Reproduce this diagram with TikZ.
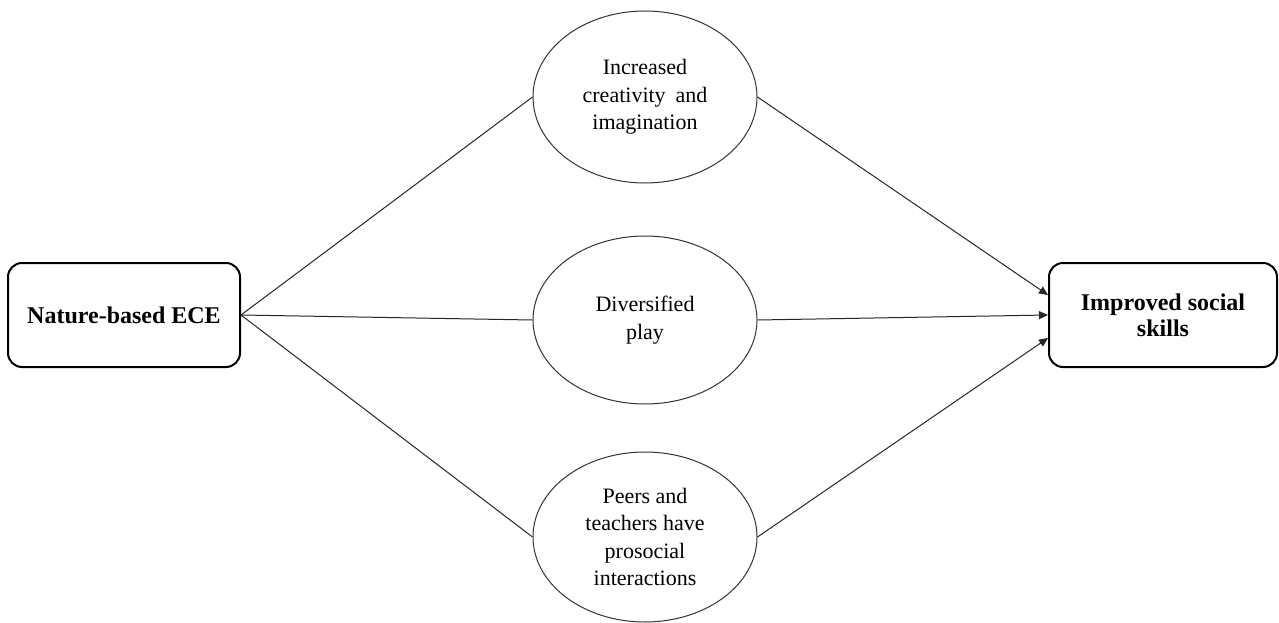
\documentclass[tikz,border=0pt]{standalone}
\usepackage{fontspec}
\setmainfont{Liberation Serif}
\usetikzlibrary{shapes.geometric,arrows.meta}
\tikzset{
  boxnode/.style={draw=black, line width=2pt, rounded corners=14pt, minimum width=232pt, minimum height=104pt, inner sep=0pt, align=center, font=\fontsize{24}{26}\selectfont\bfseries},
  ovalnode/.style={draw=black!80, line width=1pt, ellipse, minimum width=224pt, minimum height=172pt, inner sep=0pt, align=center, font=\fontsize{22}{27.5}\selectfont},
  link/.style={draw=black!85, line width=1pt},
  arrowlink/.style={link, -{Triangle[length=9pt,width=8pt]}}
}
\begin{document}
\begin{tikzpicture}[x=1pt,y=-1pt]
\useasboundingbox (0,0) rectangle (1279,623);
\node[boxnode, minimum width=232pt] (src) at (124,315) {Nature-based ECE};
\node[boxnode, minimum width=228pt] (dst) at (1163,315) {Improved social\\skills};
\node[ovalnode] (top) at (645,97) {Increased\\creativity\hspace{0.45em}and\\imagination};
\node[ovalnode, minimum height=168pt] (mid) at (645,320) {Diversified\\play};
\node[ovalnode, minimum height=170pt] (bot) at (645,537) {Peers and\\teachers have\\prosocial\\interactions};
\draw[link] (src.east) -- (top.west);
\draw[link] (src.east) -- (mid.west);
\draw[link] (src.east) -- (bot.west);
\draw[arrowlink] (top.east) -- ([yshift=20pt]dst.west);
\draw[arrowlink] (mid.east) -- (dst.west);
\draw[arrowlink] (bot.east) -- ([yshift=-23pt]dst.west);
\end{tikzpicture}
\end{document}
